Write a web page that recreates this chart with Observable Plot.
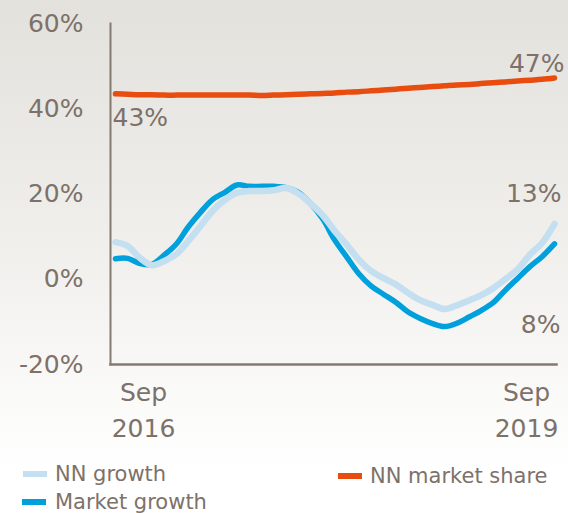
<!DOCTYPE html>
<html>
<head>
<meta charset="utf-8">
<script src="https://cdn.jsdelivr.net/npm/d3@7"></script>
<script src="https://cdn.jsdelivr.net/npm/@observablehq/plot@0.6"></script>
<style>
  html, body { margin: 0; padding: 0; }
  body { width: 568px; height: 513px; overflow: hidden;
         background: linear-gradient(to bottom, #e2e1dc 0px, #f1f0ed 260px, #ffffff 470px);
         font-family: "DejaVu Sans", Verdana, sans-serif; }
  #wrap { position: relative; width: 568px; height: 513px; }
  .leg { position: absolute; font-size: 21px; color: #7d7169; line-height: 1; white-space: nowrap; }
  .sw { position: absolute; height: 6px; width: 24px; }
</style>
</head>
<body>
<div id="wrap"></div>
<script>
// Monthly, Sep 2016 .. Sep 2019
const startMonth = "2016-09";
const endMonth = "2019-09";
const marketGrowth = [4.8, 4.9, 3.7, 3.5, 5.7, 8.4, 12.2, 15.7, 18.7, 20.4, 22.1, 21.8, 21.8, 21.8, 21.5, 20.4, 17.7, 14.0, 9.3, 5.2, 1.3, -1.6, -3.5, -5.4, -7.7, -9.2, -10.4, -11.1, -10.3, -8.8, -7.4, -5.5, -2.6, 0.2, 2.9, 5.3, 8.3];
const nnGrowth = [8.7, 7.8, 5.0, 3.3, 4.3, 6.0, 8.9, 12.5, 16.0, 18.6, 20.3, 20.7, 20.7, 20.9, 21.4, 20.1, 17.7, 14.9, 11.4, 8.1, 4.6, 1.9, 0.3, -1.2, -3.2, -4.9, -6.0, -7.0, -6.1, -4.9, -3.8, -2.1, 0.0, 2.3, 5.7, 8.5, 13.0];
const nnShare = [43.5, 43.4, 43.3, 43.3, 43.2, 43.2, 43.2, 43.2, 43.2, 43.2, 43.2, 43.2, 43.1, 43.2, 43.3, 43.4, 43.5, 43.6, 43.7, 43.9, 44.0, 44.2, 44.4, 44.6, 44.8, 45.0, 45.2, 45.4, 45.6, 45.7, 45.9, 46.1, 46.3, 46.5, 46.7, 46.9, 47.2];
const yTicks = [-20, 0, 20, 40, 60];
const xTickLabels = ["Sep\n2016", "Sep\n2019"];
const seriesNames = ["NN growth", "Market growth", "NN market share"];
const endLabels = ["43%", "47%", "13%", "8%"];

const months = d3.utcMonth.range(new Date(startMonth + "-01"), d3.utcMonth.offset(new Date(endMonth + "-01"), 1));
const rows = (vals) => months.map((d, i) => ({date: d, value: vals[i]}));
const first = months[0], last = months[months.length - 1];

const textColor = "#7d7169";
const axisColor = "#857a72";
const cOrange = "#e84c0f";
const cDark = "#00a0dc";
const cLight = "#c3dff0";

const chart = Plot.plot({
  width: 568,
  height: 460,
  marginLeft: 110,
  marginRight: 12,
  marginTop: 23,
  marginBottom: 96,
  style: {background: "transparent", fontFamily: "DejaVu Sans, Verdana, sans-serif", color: textColor, overflow: "visible"},
  x: {type: "utc", domain: [first, last], insetLeft: 5, insetRight: 2},
  y: {domain: [-20, 60]},
  marks: [
    Plot.axisY({ticks: yTicks, tickSize: 0, tickPadding: 27, tickFormat: d => d + "%", fontSize: 25, fill: textColor, label: null}),
    Plot.axisX({ticks: [first], tickSize: 0, tickPadding: 11, tickFormat: () => xTickLabels[0], fontSize: 25, lineHeight: 1.45, fill: textColor, dx: 28, textAnchor: "middle", label: null}),
    Plot.axisX({ticks: [last], tickSize: 0, tickPadding: 11, tickFormat: () => xTickLabels[1], fontSize: 25, lineHeight: 1.45, fill: textColor, dx: -28, textAnchor: "middle", label: null}),
    Plot.frame({anchor: "left", stroke: axisColor, strokeWidth: 2}),
    Plot.frame({anchor: "bottom", stroke: axisColor, strokeWidth: 2.5}),
    Plot.line(rows(nnShare), {x: "date", y: "value", stroke: cOrange, strokeWidth: 5.5, curve: "catmull-rom"}),
    Plot.line(rows(marketGrowth), {x: "date", y: "value", stroke: cDark, strokeWidth: 5.5, curve: "catmull-rom"}),
    Plot.line(rows(nnGrowth), {x: "date", y: "value", stroke: cLight, strokeWidth: 6.5, curve: "catmull-rom"}),
    Plot.text([{date: first, value: nnShare[0], t: endLabels[0]}], {x: "date", y: "value", text: "t", textAnchor: "start", dx: -3, dy: 24, fontSize: 25, fill: textColor}),
    Plot.text([{date: last, value: nnShare[nnShare.length - 1], t: endLabels[1]}], {x: "date", y: "value", text: "t", textAnchor: "end", dx: 10, dy: -14, fontSize: 25, fill: textColor}),
    Plot.text([{date: last, value: nnGrowth[nnGrowth.length - 1], t: endLabels[2]}], {x: "date", y: "value", text: "t", textAnchor: "end", dx: 7, dy: -30, fontSize: 25, fill: textColor}),
    Plot.text([{date: last, value: marketGrowth[marketGrowth.length - 1], t: endLabels[3]}], {x: "date", y: "value", text: "t", textAnchor: "end", dx: 6, dy: 81, fontSize: 25, fill: textColor})
  ]
});

const wrap = document.getElementById("wrap");
wrap.appendChild(chart);

const legendItems = [
  {name: seriesNames[0], color: cLight, sx: 23, tx: 55, y: 474},
  {name: seriesNames[1], color: cDark, sx: 22, tx: 55, y: 502},
  {name: seriesNames[2], color: cOrange, sx: 338, tx: 370, y: 476}
];
for (const it of legendItems) {
  const sw = document.createElement("div");
  sw.className = "sw";
  sw.style.left = it.sx + "px";
  sw.style.top = (it.y - 3) + "px";
  sw.style.background = it.color;
  wrap.appendChild(sw);
  const t = document.createElement("div");
  t.className = "leg";
  t.textContent = it.name;
  t.style.left = it.tx + "px";
  t.style.top = (it.y - 10) + "px";
  wrap.appendChild(t);
}
</script>
</body>
</html>
